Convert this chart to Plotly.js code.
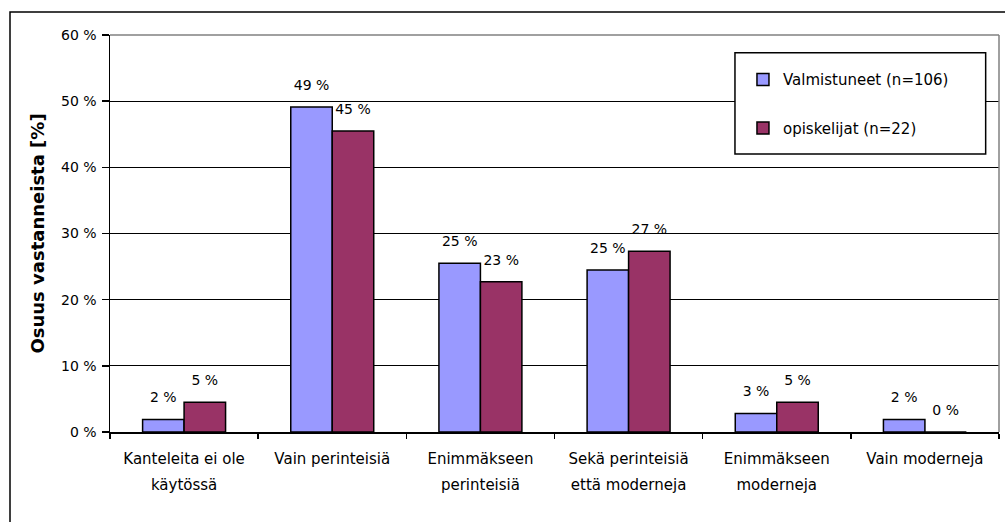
<!DOCTYPE html>
<html>
<head>
<meta charset="utf-8">
<script src="https://cdn.plot.ly/plotly-3.0.1.min.js"></script>
<style>html,body{margin:0;padding:0;background:#fff;}#chart{width:1005px;height:522px;}</style>
</head>
<body>
<div id="chart"></div>
<script>
var categories = [
  "Kanteleita ei ole<br>käytössä",
  "Vain perinteisiä",
  "Enimmäkseen<br>perinteisiä",
  "Sekä perinteisiä<br>että moderneja",
  "Enimmäkseen<br>moderneja",
  "Vain moderneja"
];
var seriesNames = ["Valmistuneet (n=106)", "opiskelijat (n=22)"];
var valmistuneet = [1.9, 49.1, 25.5, 24.5, 2.8, 1.9];
var opiskelijat = [4.5, 45.5, 22.7, 27.3, 4.5, 0.0];
var valmistuneetLabels = ["2 %", "49 %", "25 %", "25 %", "3 %", "2 %"];
var opiskelijatLabels = ["5 %", "45 %", "23 %", "27 %", "5 %", "0 %"];
var yTickVals = [0, 10, 20, 30, 40, 50, 60];
var yTickText = ["0 %", "10 %", "20 %", "30 %", "40 %", "50 %", "60 %"];

var FONT = "DejaVu Sans, Verdana, sans-serif";
// value label in 14px text, plus a tiny invisible second line that lifts it a bit above the bar
function lifted(labels) {
  return labels.map(function (t) {
    return "<span style='font-size:14px'>" + t + "</span><br><span style='font-size:4px'>&nbsp;</span>";
  });
}
// category labels drawn at 15px with the wider line spacing of the reference
function spaced(labels) {
  return labels.map(function (t) {
    return t.split("<br>").map(function (line) {
      return "<span style='font-size:15px'>" + line + "</span>";
    }).join("<br>");
  });
}

var traces = [
  {
    type: "bar", name: seriesNames[0], x: categories, y: valmistuneet,
    text: lifted(valmistuneetLabels), textposition: "outside", cliponaxis: false, constraintext: "none",
    textfont: {family: FONT, size: 10, color: "#000"},
    marker: {color: "#9999FF", line: {color: "#000", width: 1.5}},
    legendgroup: "a"
  },
  {
    type: "bar", name: seriesNames[1], x: categories, y: opiskelijat,
    text: lifted(opiskelijatLabels), textposition: "outside", cliponaxis: false, constraintext: "none",
    textfont: {family: FONT, size: 10, color: "#000"},
    marker: {color: "#993366", line: {color: "#000", width: 1.5}},
    legendgroup: "b"
  }
];

var layout = {
  width: 1005, height: 522,
  margin: {l: 110, r: 6, t: 35, b: 90},
  paper_bgcolor: "#fff", plot_bgcolor: "#fff",
  font: {family: FONT, size: 15, color: "#000"},
  barmode: "group", bargap: 0.44, bargroupgap: 0,
  showlegend: true,
  legend: {
    x: 0.712, y: 0.929, xanchor: "left", yanchor: "top",
    bgcolor: "rgba(0,0,0,0)", borderwidth: 0,
    font: {family: FONT, size: 15, color: "#000"},
    tracegroupgap: 26, traceorder: "grouped"
  },
  xaxis: {
    type: "category", showline: true, linecolor: "#000", linewidth: 1.5,
    tickmode: "array", tickvals: categories, ticktext: spaced(categories),
    ticks: "outside", tickson: "boundaries", ticklen: 5, tickcolor: "#000", tickwidth: 1.5,
    showgrid: false, tickfont: {family: FONT, size: 20, color: "#000"}, tickangle: 0,
    ticklabelstandoff: 6
  },
  yaxis: {
    range: [0, 60], tickvals: yTickVals, ticktext: yTickText,
    showline: true, linecolor: "#000", linewidth: 1.5,
    ticks: "outside", ticklen: 7, tickcolor: "#000", tickwidth: 1.5,
    showgrid: true, gridcolor: "#000", gridwidth: 1,
    zeroline: false, ticklabelstandoff: 2,
    tickfont: {family: FONT, size: 14, color: "#000"},
    title: {text: "<b>Osuus vastanneista [%]</b>", font: {family: FONT, size: 18, color: "#000"}, standoff: 12}
  },
  shapes: [
    {type: "line", xref: "paper", yref: "paper", x0: 0, x1: 1, y0: 1, y1: 1, line: {color: "#808080", width: 1.5}, layer: "above"},
    {type: "line", xref: "paper", yref: "paper", x0: 1, x1: 1, y0: 0, y1: 1, line: {color: "#808080", width: 1.5}, layer: "above"},
    {type: "rect", xref: "paper", yref: "paper", x0: 0.703, x1: 0.985, y0: 0.700, y1: 0.955, line: {color: "#000", width: 1.5}, fillcolor: "#fff", layer: "above"},
    {type: "rect", xref: "paper", yref: "paper", x0: -100/889, x1: 897/889, y0: -100/397, y1: 1 + 23/397, line: {color: "#000", width: 1.5}, fillcolor: "rgba(0,0,0,0)", layer: "below"}
  ]
};

Plotly.newPlot("chart", traces, layout, {displayModeBar: false, staticPlot: true});
</script>
</body>
</html>
